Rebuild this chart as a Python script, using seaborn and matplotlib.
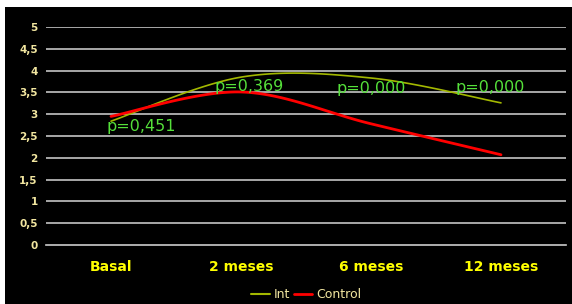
import numpy as np
import pandas as pd
import matplotlib.pyplot as plt
import seaborn as sns
from matplotlib.patches import Rectangle
from matplotlib.lines import Line2D

categories = ["Basal", "2 meses", "6 meses", "12 meses"]
int_values = [2.84, 3.85, 3.83, 3.26]
control_values = [2.95, 3.51, 2.78, 2.07]
p_labels = ["p=0,451", "p=0,369", "p=0,000", "p=0,000"]
p_heights = [2.72, 3.63, 3.60, 3.62]


def smooth(values, n=40):
    # Excel-style smoothed line (cubic bezier through the points)
    y = np.asarray(values, float)
    x = np.arange(len(y), dtype=float)
    t = np.linspace(0, 1, n)
    xs, ys = [], []
    for i in range(len(y) - 1):
        a, b = max(i - 1, 0), min(i + 2, len(y) - 1)
        pts_x = [x[i], x[i] + (x[i + 1] - x[a]) / 6, x[i + 1] - (x[b] - x[i]) / 6, x[i + 1]]
        pts_y = [y[i], y[i] + (y[i + 1] - y[a]) / 6, y[i + 1] - (y[b] - y[i]) / 6, y[i + 1]]
        w = [(1 - t) ** 3, 3 * t * (1 - t) ** 2, 3 * t ** 2 * (1 - t), t ** 3]
        xs.extend(sum(wk * pk for wk, pk in zip(w, pts_x)))
        ys.extend(sum(wk * pk for wk, pk in zip(w, pts_y)))
    return np.array(xs), np.array(ys)


sns.set_style("dark", {"axes.facecolor": "black", "axes.grid": False})
plt.rcParams["font.family"] = ["DejaVu Sans"]

fig = plt.figure(figsize=(5.72, 3.04), dpi=100)
fig.patch.set_facecolor("white")
fig.patches.append(Rectangle((5 / 572, 0), 1, 1 - 7 / 304, transform=fig.transFigure,
                             facecolor="black", edgecolor="none", zorder=-10))

ax = fig.add_axes([46 / 572, 59 / 304, 520 / 572, 218 / 304])
ax.set_facecolor("black")

int_colour = "#a3b800"
ctrl_colour = "#ff0000"

xi, yi = smooth(int_values)
xc, yc = smooth(control_values)
sns.lineplot(x=xi, y=yi, sort=False, estimator=None, color=int_colour, lw=1.2, ax=ax)
sns.lineplot(x=xc, y=yc, sort=False, estimator=None, color=ctrl_colour, lw=2.0, ax=ax)

offsets = [0.23, 0.06, 0.0, -0.08]
for i, (lab, h) in enumerate(zip(p_labels, p_heights)):
    ax.text(i + offsets[i], h, lab, color="#55e03a", fontsize=11.5,
            ha="center", va="center", zorder=5)

ax.set_xlim(-0.5, 3.5)
ax.set_ylim(0, 5)
yticks = np.arange(0, 5.01, 0.5)
ax.set_yticks(yticks)
ax.set_yticklabels([("%g" % v).replace(".", ",") for v in yticks],
                   color="#f2e6a0", fontsize=7.5, fontweight="bold")
for v in yticks[1:]:
    ax.axhline(v, color="#c4c4c4", lw=1.2, zorder=1)

ax.set_xticks(range(len(categories)))
ax.set_xticklabels(categories, color="#ffff00", fontsize=10, fontweight="bold")
ax.set_xticks(np.arange(-0.5, 3.6, 1), minor=True)
ax.tick_params(axis="x", which="major", length=0, pad=11)
ax.tick_params(axis="x", which="minor", length=4, color="#cccccc", width=1.2)
ax.tick_params(axis="y", length=0, pad=6)

for s in ["top", "right", "left"]:
    ax.spines[s].set_visible(False)
ax.spines["bottom"].set_color("#cccccc")
ax.spines["bottom"].set_linewidth(1.2)
ax.set_xlabel("")
ax.set_ylabel("")

handles = [Line2D([], [], color=int_colour, lw=1.5), Line2D([], [], color=ctrl_colour, lw=2)]
fig.legend(handles, ["Int", "Control"], loc="center", bbox_to_anchor=(306 / 572, 9 / 304),
           ncol=2, frameon=False, fontsize=9, labelcolor="#f2e6a0",
           handlelength=1.5, handletextpad=0.3, columnspacing=0.3)

plt.savefig("out.png", dpi=100, facecolor=fig.get_facecolor())
